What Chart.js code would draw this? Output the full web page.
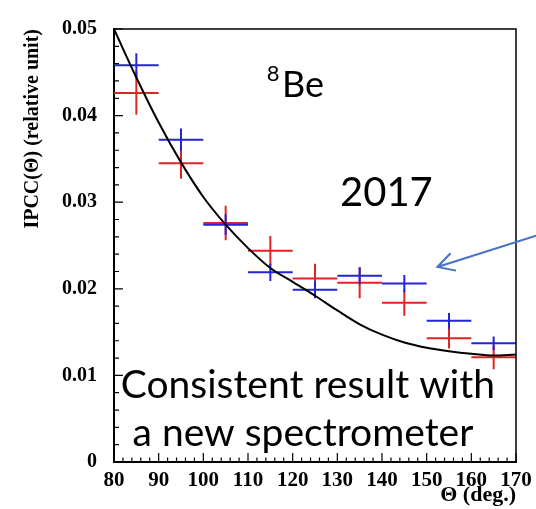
<!DOCTYPE html>
<html>
<head>
<meta charset="utf-8">
<script src="https://cdn.jsdelivr.net/npm/chart.js@4.4.1/dist/chart.umd.min.js"></script>
<style>
  body { margin: 0; background: #fff; }
</style>
</head>
<body>
<canvas id="myChart" width="536" height="509"></canvas>
<script>
// angle bins (deg), each bin is 10 deg wide
var theta = [85, 95, 105, 115, 125, 135, 145, 155, 165]
var binHalf = 5

var blueY   = [0.0458, 0.0372, 0.0274, 0.0219, 0.0199, 0.0215, 0.0206, 0.0163, 0.0137]
var blueErr = [0.0014, 0.0013, 0.0012, 0.0010, 0.0010, 0.0010, 0.0010, 0.0009, 0.0008]
var redY    = [0.0426, 0.0345, 0.0276, 0.0244, 0.0212, 0.0207, 0.0184, 0.0143, 0.0121]
var redErr  = [0.0025, 0.0018, 0.0020, 0.0017, 0.0017, 0.0018, 0.0015, 0.0012, 0.0014]

// black curve
var fitTheta = [80, 85, 90, 95, 100, 105, 110, 115, 120, 125, 130, 135, 140, 145, 150, 155, 160, 165, 170]
var fitY     = [0.0500, 0.0444, 0.0392, 0.0346, 0.0306, 0.0274, 0.0247, 0.0224, 0.0208, 0.0192,
                0.0175, 0.0159, 0.0147, 0.0138, 0.0132, 0.0128, 0.0125, 0.0123, 0.0124]

var xTicks = [80, 90, 100, 110, 120, 130, 140, 150, 160, 170]
var yTicks = [0, 0.01, 0.02, 0.03, 0.04, 0.05]
var yLabels = ['0', '0.01', '0.02', '0.03', '0.04', '0.05']

// crosses: horizontal bin line + vertical error bar, broken with nulls
function crosses(vals, errs) {
  var pts = []
  for (var i = 0; i < theta.length; i++) {
    pts.push({x: theta[i] - binHalf, y: vals[i]}, {x: theta[i] + binHalf, y: vals[i]}, {x: theta[i], y: null})
    pts.push({x: theta[i], y: vals[i] - errs[i]}, {x: theta[i], y: vals[i] + errs[i]}, {x: theta[i], y: null})
  }
  return pts
}

var fitPts = fitTheta.map(function (t, i) { return {x: t, y: fitY[i]} })

var serif = "'Liberation Serif', 'Times New Roman', serif"
var sans = "Lato, 'Open Sans', sans-serif"

// inward ticks, top/right frame, notes and arrow
var decor = {
  id: 'decor',
  afterDraw: function (chart) {
    var ctx = chart.ctx
    var a = chart.chartArea
    var sx = chart.scales.x
    var sy = chart.scales.y
    ctx.save()
    ctx.strokeStyle = '#000'
    ctx.lineWidth = 1.5
    ctx.beginPath()
    ctx.moveTo(a.left, a.top)
    ctx.lineTo(a.right, a.top)
    ctx.lineTo(a.right, a.bottom)
    ctx.stroke()

    ctx.lineWidth = 1.2
    ctx.beginPath()
    for (var k = 0; k <= 45; k++) {
      var px = sx.getPixelForValue(80 + k * 2)
      var len = (k % 5 == 0) ? 9 : 4.5
      ctx.moveTo(px, a.bottom)
      ctx.lineTo(px, a.bottom - len)
    }
    for (var j = 0; j <= 25; j++) {
      var py = sy.getPixelForValue(j * 0.002)
      var l2 = (j % 5 == 0) ? 9 : 5
      ctx.moveTo(a.left, py)
      ctx.lineTo(a.left + l2, py)
    }
    ctx.stroke()

    // arrow
    var tipX = sx.getPixelForValue(152.4), tipY = sy.getPixelForValue(0.02252)
    var tailX = sx.getPixelForValue(174.5), tailY = sy.getPixelForValue(0.02614)
    var ang = Math.atan2(tailY - tipY, tailX - tipX)
    ctx.strokeStyle = '#4472C4'
    ctx.lineWidth = 2
    ctx.beginPath()
    ctx.moveTo(tailX, tailY)
    ctx.lineTo(tipX, tipY)
    ctx.moveTo(tipX + 19 * Math.cos(ang - 0.5), tipY + 19 * Math.sin(ang - 0.5))
    ctx.lineTo(tipX, tipY)
    ctx.lineTo(tipX + 19 * Math.cos(ang + 0.5), tipY + 19 * Math.sin(ang + 0.5))
    ctx.stroke()

    // notes
    ctx.fillStyle = '#000'
    ctx.textBaseline = 'alphabetic'
    ctx.textAlign = 'left'
    ctx.font = '22px ' + sans
    ctx.fillText('8', sx.getPixelForValue(114.2), sy.getPixelForValue(0.0440))
    ctx.font = '36px ' + sans
    ctx.fillText('Be', sx.getPixelForValue(117.6), sy.getPixelForValue(0.04217))
    ctx.font = '40px ' + sans
    ctx.fillText('2017', sx.getPixelForValue(130.6), sy.getPixelForValue(0.02956))
    ctx.textAlign = 'center'
    ctx.font = '39px ' + sans
    ctx.fillText('Consistent result with', sx.getPixelForValue(123.4), sy.getPixelForValue(0.00744))
    ctx.fillText('a new spectrometer', sx.getPixelForValue(122.3), sy.getPixelForValue(0.00189))
    ctx.restore()
  }
}

Chart.defaults.color = '#000'

var ctx = document.getElementById('myChart')
var myChart = new Chart(ctx, {
  type: 'line',
  data: {
    datasets: [
      {
        label: 'fit',
        data: fitPts,
        borderColor: '#000',
        borderWidth: 2,
        pointRadius: 0,
        cubicInterpolationMode: 'monotone',
        order: 0
      },
      {
        label: 'blue',
        data: crosses(blueY, blueErr),
        borderColor: '#2424d8',
        borderWidth: 2,
        pointRadius: 0,
        spanGaps: false,
        tension: 0,
        order: 1
      },
      {
        label: 'red',
        data: crosses(redY, redErr),
        borderColor: '#e02424',
        borderWidth: 2,
        pointRadius: 0,
        spanGaps: false,
        tension: 0,
        order: 2
      }
    ]
  },
  options: {
    responsive: false,
    animation: false,
    devicePixelRatio: 1,
    layout: { padding: { top: 13, right: 20, left: 0, bottom: 0 } },
    plugins: { legend: { display: false }, tooltip: { enabled: false } },
    scales: {
      x: {
        type: 'linear',
        min: 80,
        max: 170,
        afterBuildTicks: function (s) { s.ticks = xTicks.map(function (v) { return {value: v} }) },
        afterFit: function (s) {
          s.height = 47
          s.paddingRight = 0
          s.paddingLeft = 0
        },
        grid: { display: false, drawTicks: false },
        border: { display: true, color: '#000', width: 2 },
        ticks: { font: { family: serif, size: 21, weight: 'bold' }, padding: 6, maxRotation: 0, autoSkip: false },
        title: { display: true, text: 'Θ (deg.)', align: 'end', font: { family: serif, size: 22, weight: 'bold' }, padding: { top: 0, bottom: 0 } }
      },
      y: {
        min: 0,
        max: 0.05,
        afterBuildTicks: function (s) { s.ticks = yTicks.map(function (v) { return {value: v} }) },
        afterFit: function (s) { s.width = 114 },
        grid: { display: false, drawTicks: false },
        border: { display: true, color: '#000', width: 2 },
        ticks: {
          font: { family: serif, size: 20, weight: 'bold' },
          padding: 17,
          callback: function (v, i) { return yLabels[i] }
        },
        title: { display: true, text: 'IPCC(Θ) (relative unit)', align: 'end', font: { family: serif, size: 20, weight: 'bold' }, padding: { top: 21, bottom: 0 } }
      }
    }
  },
  plugins: [decor]
})
</script>
</body>
</html>
